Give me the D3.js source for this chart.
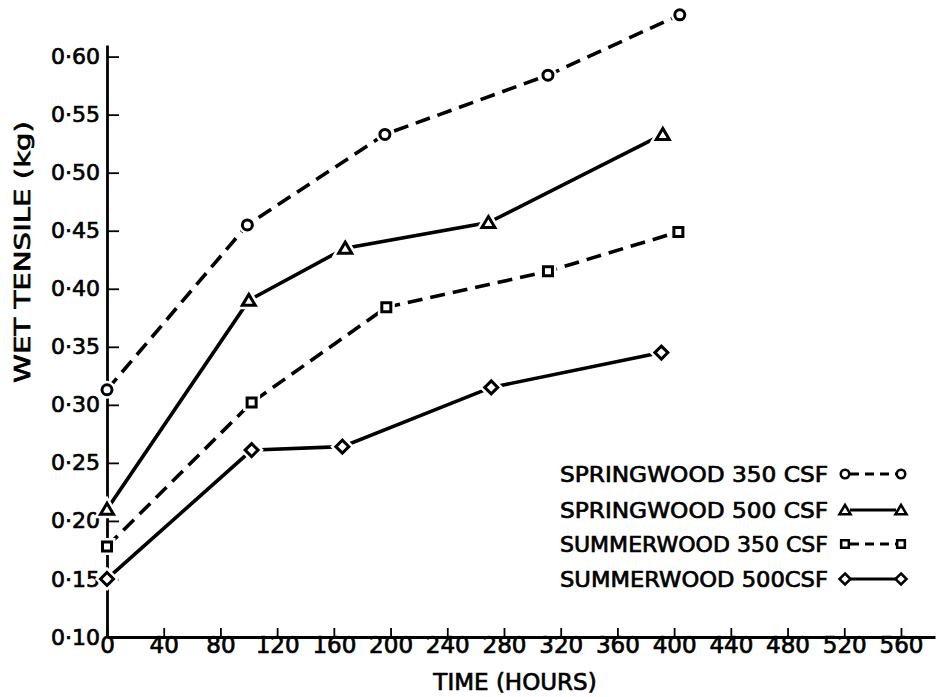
<!DOCTYPE html>
<html>
<head>
<meta charset="utf-8">
<script src="https://cdn.jsdelivr.net/npm/d3@7"></script>
<style>
body {margin: 0; background: #fff;}
svg text {font-family: "DejaVu Sans", sans-serif; fill: #000; stroke: #000; stroke-width: 0.7px;}
</style>
</head>
<body>
<div id="chart"></div>
<script>
// tick values and labels
var xTicks = [0, 40, 80, 120, 160, 200, 240, 280, 320, 360, 400, 440, 480, 520, 560];
var yTicks = [0.10, 0.15, 0.20, 0.25, 0.30, 0.35, 0.40, 0.45, 0.50, 0.55, 0.60];
var yTickLabels = ["0·10", "0·15", "0·20", "0·25", "0·30", "0·35", "0·40", "0·45", "0·50", "0·55", "0·60"];

// series
var seriesNames = ["SPRINGWOOD 350 CSF", "SPRINGWOOD 500 CSF", "SUMMERWOOD 350 CSF", "SUMMERWOOD 500CSF"];
var hoursSp350 = [0, 99, 196, 311, 404];
var tensileSp350 = [0.313, 0.455, 0.533, 0.584, 0.636];
var hoursSp500 = [0, 100, 168, 269, 392];
var tensileSp500 = [0.210, 0.390, 0.435, 0.457, 0.533];
var hoursSu350 = [0, 102, 197, 311, 403];
var tensileSu350 = [0.178, 0.302, 0.384, 0.415, 0.449];
var hoursSu500 = [0, 102, 166, 271, 391];
var tensileSu500 = [0.150, 0.261, 0.264, 0.315, 0.345];

var width = 938, height = 697;
var svg = d3.select("div#chart").append("svg")
	.attr("width", width)
	.attr("height", height);

var x = d3.scaleLinear().domain([0, 584]).range([107, 935]);
var y = d3.scaleLinear().domain([0.10, 0.61]).range([637, 45]);

function zip(h, v) {return h.map(function(d, i) {return {h: d, v: v[i]};});}

var series = [
	{name: seriesNames[0], pts: zip(hoursSp350, tensileSp350), dash: true, sym: "circle"},
	{name: seriesNames[1], pts: zip(hoursSp500, tensileSp500), dash: false, sym: "triangle"},
	{name: seriesNames[2], pts: zip(hoursSu350, tensileSu350), dash: true, sym: "square"},
	{name: seriesNames[3], pts: zip(hoursSu500, tensileSu500), dash: false, sym: "diamond"}
];

// marker shapes, centred on 0,0
function symPath(t) {
	if (t == "circle") return "M5,0A5,5 0 1,1 -5,0A5,5 0 1,1 5,0Z";
	if (t == "triangle") return "M0,-6L6.5,5L-6.5,5Z";
	if (t == "square") return "M-4.5,-4.5H4.5V4.5H-4.5Z";
	return "M0,-6.5L6.5,0L0,6.5L-6.5,0Z";
}

// axes
var yAxis = svg.append("g")
	.attr("transform", "translate(107,0)")
	.call(d3.axisLeft(y)
		.tickValues(yTicks)
		.tickFormat(function(d, i) {return yTickLabels[i];})
		.tickSizeInner(-12)
		.tickSizeOuter(0)
		.tickPadding(7));
yAxis.selectAll("text").style("font-size", "22px");

var xAxis = svg.append("g")
	.attr("transform", "translate(0,637)")
	.call(d3.axisBottom(x)
		.tickValues(xTicks)
		.tickSizeInner(-9)
		.tickSizeOuter(0)
		.tickPadding(0));
xAxis.selectAll("text").style("font-size", "23px");

svg.selectAll(".domain").attr("stroke-width", 2.8);
svg.selectAll(".tick line").attr("stroke-width", 1.8);
// the 0.10 tick sits on the x axis
yAxis.selectAll(".tick line").filter(function(d) {return d == 0.10;}).remove();

// axis titles
svg.append("text")
	.attr("x", 515)
	.attr("y", 690)
	.attr("text-anchor", "middle")
	.style("font-size", "23px")
	.text("TIME (HOURS)");

svg.append("text")
	.attr("transform", "translate(30,252) rotate(-90)")
	.attr("text-anchor", "middle")
	.attr("textLength", 262)
	.attr("lengthAdjust", "spacingAndGlyphs")
	.style("font-size", "22px")
	.text("WET TENSILE (kg)");

// lines
var line = d3.line()
	.x(function(d) {return x(d.h);})
	.y(function(d) {return y(d.v);});

svg.append("g").attr("class", "lines")
	.selectAll("path")
	.data(series)
	.enter()
	.append("path")
	.attr("d", function(d) {return line(d.pts);})
	.attr("fill", "none")
	.attr("stroke", "#000")
	.attr("stroke-width", 3.6)
	.attr("stroke-dasharray", function(d) {return d.dash ? "15,8" : null;});

// markers, with a white halo so the line stops short
var mk = svg.append("g").attr("class", "markers");
series.forEach(function(s) {
	mk.selectAll(null)
		.data(s.pts)
		.enter()
		.append("path")
		.attr("transform", function(d) {return "translate(" + x(d.h) + "," + y(d.v) + ")";})
		.attr("d", symPath(s.sym))
		.attr("fill", "#fff")
		.attr("stroke", "#fff")
		.attr("stroke-width", 8);
	mk.selectAll(null)
		.data(s.pts)
		.enter()
		.append("path")
		.attr("transform", function(d) {return "translate(" + x(d.h) + "," + y(d.v) + ")";})
		.attr("d", symPath(s.sym))
		.attr("fill", "#fff")
		.attr("stroke", "#000")
		.attr("stroke-width", 3);
});

// legend
var legendY = [482, 518, 552, 587];
var legend = svg.append("g").attr("class", "legend")
	.selectAll("g")
	.data(series)
	.enter()
	.append("g")
	.attr("transform", function(d, i) {return "translate(0," + legendY[i] + ")";});

legend.append("text")
	.attr("x", 560)
	.attr("y", 0)
	.attr("textLength", 268)
	.attr("lengthAdjust", "spacingAndGlyphs")
	.style("font-size", "21px")
	.text(function(d) {return d.name;});

legend.append("line")
	.attr("x1", 850)
	.attr("x2", 896)
	.attr("y1", -8)
	.attr("y2", -8)
	.attr("stroke", "#000")
	.attr("stroke-width", 3.2)
	.attr("stroke-dasharray", function(d) {return d.dash ? "9,6" : null;});

[845, 901].forEach(function(px) {
	legend.append("path")
		.attr("transform", function(d) {return "translate(" + px + ",-8) scale(0.85)";})
		.attr("d", function(d) {return symPath(d.sym);})
		.attr("fill", "#fff")
		.attr("stroke", "#000")
		.attr("stroke-width", 3);
});
</script>
</body>
</html>
